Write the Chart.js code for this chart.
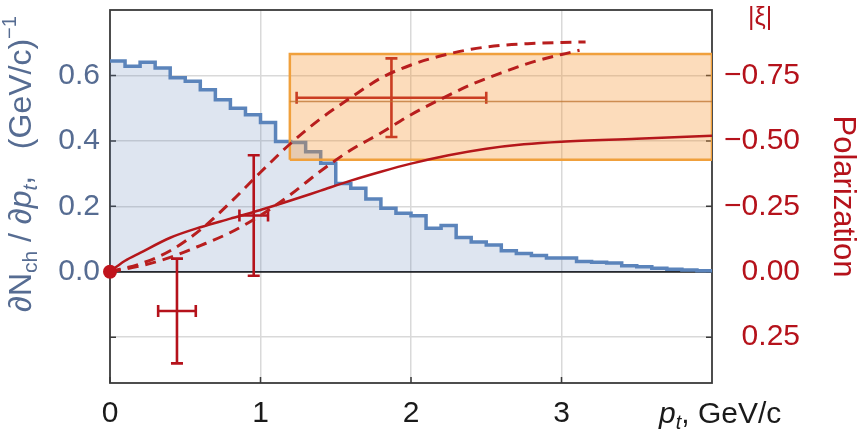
<!DOCTYPE html>
<html>
<head>
<meta charset="utf-8">
<script src="https://cdn.jsdelivr.net/npm/chart.js@4.4.0/dist/chart.umd.min.js"></script>
<style>
  html, body { margin: 0; padding: 0; background: #fff; }
  #wrap { width: 867px; height: 444px; }
</style>
</head>
<body>
<div id="wrap"><canvas id="chart"></canvas></div>
<script>
// dN/dpt histogram, bins of 0.1 GeV/c
const binEdges = [0, 0.1, 0.2, 0.3, 0.4, 0.5, 0.6, 0.7, 0.8, 0.9, 1.0,
                  1.1, 1.2, 1.3, 1.4, 1.5, 1.6, 1.7, 1.8, 1.9, 2.0,
                  2.1, 2.2, 2.3, 2.4, 2.5, 2.6, 2.7, 2.8, 2.9, 3.0,
                  3.1, 3.2, 3.3, 3.4, 3.5, 3.6, 3.7, 3.8, 3.9, 4.0];
const dndpt = [0.644, 0.628, 0.640, 0.623, 0.593, 0.582, 0.556, 0.526, 0.500, 0.480,
               0.456, 0.398, 0.395, 0.367, 0.332, 0.270, 0.255, 0.222, 0.194, 0.179,
               0.171, 0.133, 0.141, 0.105, 0.091, 0.082, 0.064, 0.056, 0.050, 0.042,
               0.042, 0.031, 0.029, 0.027, 0.018, 0.015, 0.011, 0.008, 0.005, 0.003];

// measured polarization points (right axis)
const ptX = [0.445, 0.955, 1.87];
const ptXErr = [0.125, 0.095, 0.63];
const xiVal = [0.15, -0.215, -0.665];
const xiErr = [0.2, 0.23, 0.15];

// orange band
const bandX = [1.195, 4.0];
const bandXi = [-0.832, -0.428];
const bandMean = -0.65;

// model curves
const solidX = [0, 0.05, 0.1, 0.2, 0.4, 0.6, 0.8, 1.0, 1.2, 1.4, 1.6, 1.8, 2.0, 2.25, 2.5, 2.75, 3.0, 3.5, 4.0];
const solidXi = [0, -0.022, -0.042, -0.072, -0.13, -0.17, -0.203, -0.236, -0.272, -0.31, -0.348, -0.382, -0.413, -0.445, -0.47, -0.487, -0.497, -0.508, -0.52];
const dashAX = [0, 0.2, 0.4, 0.6, 0.8, 1.0, 1.2, 1.4, 1.6, 1.8, 2.0, 2.2, 2.4, 2.6, 2.8, 3.0, 3.16];
const dashAXi = [0, -0.03, -0.08, -0.16, -0.265, -0.38, -0.49, -0.585, -0.665, -0.74, -0.79, -0.825, -0.85, -0.865, -0.872, -0.876, -0.878];
const dashBX = [0, 0.2, 0.4, 0.6, 0.8, 1.0, 1.2, 1.4, 1.6, 1.8, 2.0, 2.2, 2.4, 2.6, 2.8, 3.0, 3.12];
const dashBXi = [0, -0.022, -0.055, -0.1, -0.15, -0.215, -0.295, -0.385, -0.465, -0.53, -0.6, -0.66, -0.715, -0.76, -0.8, -0.83, -0.846];

const xTicks = [0, 1, 2, 3];
const yTicks = [-0.2, 0, 0.2, 0.4, 0.6];
const xiTicks = [-0.75, -0.5, -0.25, 0, 0.25];

const FONT = '"Liberation Sans", Arial, sans-serif';
const RED = '#b5121b';
const BLUEGREY = '#566c92';

const xy = (xs, ys) => xs.map((x, i) => ({x: x, y: ys[i]}));

// histogram outline points
const histPts = [];
dndpt.forEach((v, i) => {
    histPts.push({x: binEdges[i], y: v});
    histPts.push({x: binEdges[i + 1], y: v});
});

const bandPts = [
    {x: bandX[0], y: bandXi[1]},
    {x: bandX[0], y: bandXi[0]},
    {x: bandX[1], y: bandXi[0]},
    {x: bandX[1], y: bandXi[1]},
    {x: bandX[0], y: bandXi[1]}
];

function drawRich(ctx, parts, x, y) {
    let cx = x;
    parts.forEach(p => {
        ctx.font = (p.it ? 'italic ' : '') + p.s + 'px ' + FONT;
        ctx.fillText(p.t, cx, y + (p.dy || 0));
        cx += ctx.measureText(p.t).width;
    });
    return cx - x;
}
function richWidth(ctx, parts) {
    let w = 0;
    parts.forEach(p => {
        ctx.font = (p.it ? 'italic ' : '') + p.s + 'px ' + FONT;
        w += ctx.measureText(p.t).width;
    });
    return w;
}

const extras = {
    id: 'extras',
    beforeDatasetsDraw(chart) {
        const {ctx, chartArea: a, scales} = chart;
        ctx.save();
        ctx.strokeStyle = '#3a3a3a';
        ctx.lineWidth = 1.8;
        ctx.strokeRect(a.left, a.top, a.right - a.left, a.bottom - a.top);
        // small inside tick marks
        ctx.lineWidth = 1.5;
        ctx.beginPath();
        xTicks.forEach(v => {
            const px = scales.x.getPixelForValue(v);
            ctx.moveTo(px, a.bottom); ctx.lineTo(px, a.bottom - 6);
        });
        yTicks.forEach(v => {
            const py = scales.y.getPixelForValue(v);
            ctx.moveTo(a.left, py); ctx.lineTo(a.left + 6, py);
        });
        xiTicks.forEach(v => {
            const py = scales.y2.getPixelForValue(v);
            ctx.moveTo(a.right, py); ctx.lineTo(a.right - 6, py);
        });
        ctx.stroke();
        ctx.restore();
    },
    afterDatasetDraw(chart, args) {
        if (args.index !== 0) return;
        // error bars go between histogram and band
        const ctx = chart.ctx, xs = chart.scales.x, ys = chart.scales.y2;
        ctx.save();
        ctx.strokeStyle = RED;
        ctx.lineWidth = 2.6;
        const cap = 6;
        ptX.forEach((px, i) => {
            const cx = xs.getPixelForValue(px), cy = ys.getPixelForValue(xiVal[i]);
            const x0 = xs.getPixelForValue(px - ptXErr[i]), x1 = xs.getPixelForValue(px + ptXErr[i]);
            const y0 = ys.getPixelForValue(xiVal[i] - xiErr[i]), y1 = ys.getPixelForValue(xiVal[i] + xiErr[i]);
            ctx.beginPath();
            ctx.moveTo(x0, cy); ctx.lineTo(x1, cy);
            ctx.moveTo(cx, y0); ctx.lineTo(cx, y1);
            ctx.moveTo(x0, cy - cap); ctx.lineTo(x0, cy + cap);
            ctx.moveTo(x1, cy - cap); ctx.lineTo(x1, cy + cap);
            ctx.moveTo(cx - cap, y0); ctx.lineTo(cx + cap, y0);
            ctx.moveTo(cx - cap, y1); ctx.lineTo(cx + cap, y1);
            ctx.stroke();
        });
        ctx.restore();
    },
    afterDraw(chart) {
        const ctx = chart.ctx;
        ctx.save();
        ctx.textBaseline = 'alphabetic';
        ctx.textAlign = 'left';

        // left axis title
        const yTitle = [
            {t: '\u2202N', s: 32},
            {t: 'ch', s: 21, dy: 6},
            {t: ' / \u2202', s: 32},
            {t: 'p', s: 32, it: true},
            {t: 't', s: 21, it: true, dy: 6},
            {t: ',   (GeV/c)', s: 32},
            {t: '\u22121', s: 20, dy: -15}
        ];
        ctx.fillStyle = BLUEGREY;
        const w = richWidth(ctx, yTitle);
        ctx.save();
        ctx.translate(31, 164);
        ctx.rotate(-Math.PI / 2);
        drawRich(ctx, yTitle, -w / 2, 0);
        ctx.restore();

        // x axis title
        ctx.fillStyle = '#1a1a1a';
        drawRich(ctx, [
            {t: 'p', s: 30, it: true},
            {t: 't', s: 20, it: true, dy: 6},
            {t: ', GeV/c', s: 30}
        ], 659, 423);

        // right axis title
        ctx.fillStyle = RED;
        ctx.font = '25px ' + FONT;
        ctx.fillText('|\u03BE|', 748, 25);
        ctx.save();
        ctx.translate(834, 196.5);
        ctx.rotate(Math.PI / 2);
        ctx.textAlign = 'center';
        ctx.font = '31px ' + FONT;
        ctx.fillText('Polarization', 0, 0);
        ctx.restore();

        ctx.restore();
    }
};

function noPad(s) {
    s.paddingTop = 0; s.paddingBottom = 0;
    s.paddingLeft = 0; s.paddingRight = 0;
}

new Chart(document.getElementById('chart').getContext('2d'), {
    type: 'line',
    data: {
        datasets: [
            {
                data: histPts,
                yAxisID: 'y',
                borderColor: '#5b84bb',
                borderWidth: 3.5,
                backgroundColor: 'rgba(90,125,180,0.2)',
                fill: 'origin',
                pointRadius: 0,
                order: 10
            },
            {
                data: bandPts,
                yAxisID: 'y2',
                borderColor: '#f0a03c',
                borderWidth: 2.5,
                backgroundColor: 'rgba(245,150,50,0.33)',
                fill: 'shape',
                pointRadius: 0,
                order: 8
            },
            {
                data: xy(bandX, [bandMean, bandMean]),
                yAxisID: 'y2',
                borderColor: 'rgba(190,115,45,0.75)',
                borderWidth: 1.5,
                pointRadius: 0,
                order: 7
            },
            {
                data: xy(solidX, solidXi),
                yAxisID: 'y2',
                borderColor: '#b5171b',
                borderWidth: 2.5,
                cubicInterpolationMode: 'monotone',
                pointRadius: 0,
                order: 3
            },
            {
                data: xy(dashAX, dashAXi),
                yAxisID: 'y2',
                borderColor: '#b81e1e',
                borderWidth: 3,
                borderDash: [11, 7],
                cubicInterpolationMode: 'monotone',
                pointRadius: 0,
                order: 2
            },
            {
                data: xy(dashBX, dashBXi),
                yAxisID: 'y2',
                borderColor: '#b81e1e',
                borderWidth: 3,
                borderDash: [11, 7],
                cubicInterpolationMode: 'monotone',
                pointRadius: 0,
                order: 2
            },
            {
                data: [{x: 0, y: 0}],
                yAxisID: 'y2',
                showLine: false,
                pointRadius: 7,
                pointBackgroundColor: '#c0141c',
                pointBorderWidth: 0,
                clip: false,
                order: 0
            }
        ]
    },
    options: {
        responsive: true,
        maintainAspectRatio: false,
        animation: false,
        layout: {padding: {top: 10, right: 67, bottom: 0, left: 0}},
        plugins: {legend: {display: false}, tooltip: {enabled: false}},
        scales: {
            x: {
                type: 'linear',
                min: 0,
                max: 4,
                afterBuildTicks: s => { s.ticks = xTicks.map(v => ({value: v})); },
                afterFit: s => { s.height = 61; noPad(s); },
                ticks: {
                    color: '#1a1a1a',
                    font: {family: FONT, size: 30},
                    padding: 13,
                    maxRotation: 0,
                    autoSkip: false
                },
                grid: {
                    color: ctx => ctx.tick && ctx.tick.value === 0 ? 'rgba(0,0,0,0)' : '#d9d9d9',
                    lineWidth: 1.5,
                    drawTicks: false
                },
                border: {display: false}
            },
            y: {
                position: 'left',
                min: -0.34,
                max: 0.8,
                afterBuildTicks: s => { s.ticks = yTicks.map(v => ({value: v})); },
                afterFit: s => { s.width = 110; noPad(s); },
                ticks: {
                    callback: v => v < 0 ? '' : v.toFixed(1),
                    color: BLUEGREY,
                    font: {family: FONT, size: 30},
                    padding: 10
                },
                grid: {
                    color: ctx => ctx.tick && ctx.tick.value === 0 ? '#1a1a1a' : '#d9d9d9',
                    lineWidth: ctx => ctx.tick && ctx.tick.value === 0 ? 1.8 : 1.5,
                    drawTicks: false
                },
                border: {display: false}
            },
            y2: {
                position: 'right',
                reverse: true,
                min: -1.0,
                max: 0.425,
                afterBuildTicks: s => { s.ticks = xiTicks.map(v => ({value: v})); },
                afterFit: s => { s.width = 88; noPad(s); },
                ticks: {
                    callback: v => (v < 0 ? '\u2212' : '') + Math.abs(v).toFixed(2),
                    color: RED,
                    font: {family: FONT, size: 30},
                    crossAlign: 'far',
                    padding: 10
                },
                grid: {drawOnChartArea: false, drawTicks: false},
                border: {display: false}
            }
        }
    },
    plugins: [extras]
});
</script>
</body>
</html>
